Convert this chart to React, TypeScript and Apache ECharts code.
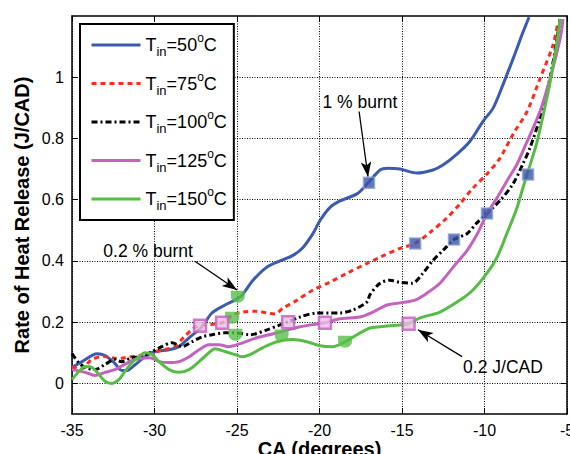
import React, { useEffect, useRef } from "react";
import * as echarts from "echarts";

const X_TICKS = [-35, -30, -25, -20, -15, -10, -5];
const Y_TICKS = [0, 0.2, 0.4, 0.6, 0.8, 1];
const TEMPS = [50, 75, 100, 125, 150];

const T50: [number, number][] = [
  [-35, 0.052], [-34.39, 0.071], [-33.48, 0.097], [-33.0, 0.091], [-32.45, 0.068], [-31.97, 0.042],
  [-31.67, 0.042], [-31.18, 0.061], [-30.58, 0.087], [-29.97, 0.104], [-29.12, 0.11], [-28.52, 0.12],
  [-27.91, 0.149], [-27.12, 0.185], [-26.52, 0.23], [-25.73, 0.256], [-25.12, 0.272], [-24.7, 0.288],
  [-24.03, 0.337], [-23.18, 0.38], [-22.39, 0.4], [-21.61, 0.418], [-21.0, 0.444], [-20.39, 0.49],
  [-19.97, 0.532], [-19.36, 0.575], [-18.76, 0.596], [-17.73, 0.619], [-17.12, 0.651], [-16.33, 0.697],
  [-15.85, 0.703], [-15.12, 0.7], [-14.09, 0.687], [-13.12, 0.697], [-12.52, 0.713], [-11.67, 0.749],
  [-10.88, 0.791], [-10.09, 0.856], [-9.48, 0.899], [-8.88, 0.976], [-8.27, 1.06], [-7.67, 1.147],
  [-7.3, 1.196],
];
const T75: [number, number][] = [
  [-35, 0.055], [-34.5, 0.045], [-33.8, 0.078], [-33.0, 0.088], [-32.3, 0.081], [-31.8, 0.084],
  [-30.9, 0.091], [-30.15, 0.1], [-29.4, 0.11], [-28.8, 0.12], [-28.2, 0.152], [-27.6, 0.181],
  [-27.1, 0.19], [-25.91, 0.198], [-25.24, 0.224], [-24.64, 0.233], [-23.79, 0.236], [-23.18, 0.23],
  [-22.7, 0.227], [-22.21, 0.246], [-21.36, 0.272], [-20.39, 0.305], [-19.36, 0.331], [-18.33, 0.36],
  [-17.12, 0.392], [-16.33, 0.412], [-15.12, 0.441], [-14.21, 0.457], [-13.3, 0.493], [-12.27, 0.541],
  [-11.48, 0.587], [-10.7, 0.638], [-9.85, 0.684], [-9.06, 0.736], [-8.27, 0.814], [-7.42, 0.888],
  [-6.64, 0.995], [-5.85, 1.105], [-5.55, 1.18],
];
const T100: [number, number][] = [
  [-35, 0.097], [-34.6, 0.068], [-34.2, 0.052], [-33.6, 0.045], [-33.0, 0.062], [-32.4, 0.078],
  [-32.0, 0.071], [-31.4, 0.084], [-30.8, 0.087], [-30.15, 0.104], [-29.55, 0.12], [-28.94, 0.133],
  [-28.33, 0.12], [-27.73, 0.136], [-27.12, 0.152], [-26.52, 0.159], [-25.73, 0.165], [-25.12, 0.165],
  [-24.21, 0.159], [-23.18, 0.175], [-22.39, 0.191], [-21.91, 0.201], [-21.18, 0.217], [-20.15, 0.23],
  [-19.36, 0.23], [-18.76, 0.23], [-17.97, 0.24], [-17.12, 0.266], [-16.94, 0.29], [-16.33, 0.327],
  [-15.73, 0.337], [-15.12, 0.33], [-14.39, 0.327], [-13.73, 0.36], [-13.12, 0.402], [-12.52, 0.434],
  [-11.85, 0.47], [-11.06, 0.489], [-10.45, 0.525], [-9.06, 0.597], [-8.27, 0.652], [-7.67, 0.717],
  [-7.24, 0.77], [-6.64, 0.867], [-6.03, 0.997], [-5.61, 1.125], [-5.42, 1.19],
];
const T125: [number, number][] = [
  [-35, 0.045], [-34.2, 0.036], [-33.6, 0.026], [-33.0, 0.036], [-32.4, 0.045], [-31.8, 0.062],
  [-31.2, 0.078], [-30.3, 0.084], [-29.7, 0.071], [-29.1, 0.068], [-28.5, 0.071], [-27.9, 0.087],
  [-27.3, 0.11], [-26.7, 0.126], [-26.1, 0.126], [-25.5, 0.12], [-24.8, 0.13], [-23.8, 0.149],
  [-22.8, 0.162], [-21.18, 0.185], [-19.67, 0.198], [-18.76, 0.211], [-17.55, 0.217], [-16.76, 0.233],
  [-15.91, 0.256], [-15.12, 0.263], [-14.21, 0.272], [-13.48, 0.295], [-12.7, 0.327], [-11.91, 0.379],
  [-11.06, 0.434], [-10.39, 0.493], [-9.85, 0.554], [-9.24, 0.606], [-8.64, 0.661], [-8.03, 0.716],
  [-7.67, 0.759], [-6.64, 0.888], [-6.03, 0.995], [-5.42, 1.125], [-5.24, 1.19],
];
const T150: [number, number][] = [
  [-35, 0.013], [-34.58, 0.039], [-34.21, 0.055], [-33.79, 0.052], [-33.36, 0.029], [-33.0, 0.007],
  [-32.58, 0.0], [-32.15, 0.013], [-31.79, 0.039], [-31.36, 0.068], [-30.94, 0.087], [-30.58, 0.1],
  [-30.15, 0.094], [-29.73, 0.071], [-29.12, 0.045], [-28.52, 0.036], [-27.91, 0.045], [-27.3, 0.071],
  [-26.7, 0.1], [-26.33, 0.113], [-25.73, 0.104], [-25.12, 0.094], [-24.7, 0.087], [-24.21, 0.094],
  [-23.42, 0.117], [-22.58, 0.136], [-21.61, 0.143], [-20.76, 0.136], [-19.97, 0.123], [-19.18, 0.12],
  [-18.45, 0.136], [-17.73, 0.159], [-16.94, 0.181], [-16.33, 0.185], [-15.12, 0.191], [-14.64, 0.194],
  [-13.91, 0.214], [-12.7, 0.233], [-11.48, 0.272], [-10.7, 0.305], [-9.85, 0.36], [-9.24, 0.412],
  [-8.64, 0.49], [-8.03, 0.574], [-7.67, 0.639], [-7.24, 0.713], [-6.82, 0.788], [-6.45, 0.875],
  [-6.03, 0.982], [-5.61, 1.115], [-5.42, 1.19],
];

// event markers
const BURNT_02: [number, number][] = [[-24.95, 0.283], [-25.3, 0.214], [-25.1, 0.159], [-22.3, 0.156], [-18.45, 0.136]];
const BURNT_1: [number, number][] = [[-17.0, 0.655], [-14.2, 0.457], [-11.85, 0.47], [-9.85, 0.555], [-7.36, 0.682]];
const JCAD_02: [number, number][] = [[-27.24, 0.188], [-25.9, 0.198], [-21.9, 0.2], [-19.67, 0.198], [-14.6, 0.195]];

// annotations: text position and arrow (from -> to), in data units
const ANNOTATIONS: { text: string; at: [number, number]; from: [number, number]; to: [number, number] }[] = [
  { text: "1 % burnt", at: [-17.55, 0.92], from: [-17.6, 0.888], to: [-17.06, 0.675] },
  { text: "0.2 % burnt", at: [-30.39, 0.431], from: [-27.55, 0.399], to: [-25.0, 0.305] },
  { text: "0.2 J/CAD", at: [-8.88, 0.055], from: [-11.36, 0.0875], to: [-14.03, 0.175] },
];

const SANS = "'Liberation Sans', Arial, sans-serif";

export default function App() {
  const ref = useRef<HTMLDivElement>(null);
  useEffect(() => {
    if (!ref.current) return;
    const chart = echarts.init(ref.current, null, { renderer: "svg" });
    const lineData = [T50, T75, T100, T125, T150];
    const colors = ["#3b5bb0", "#ff2a1c", "#000000", "#c462c0", "#55bd45"];
    const types: any[] = ["solid", [5, 4], [6, 3, 2, 3], "solid", "solid"];
    const widths = [3, 3, 3, 3, 3];
    const names = TEMPS.map((t) => `Tin=${t}°C`);

    const lineSeries = lineData.map((d, i) => ({
      name: names[i],
      type: "line",
      data: d,
      showSymbol: false,
      symbol: "none",
      smooth: 0.3,
      color: colors[i],
      lineStyle: { color: colors[i], width: widths[i], type: types[i] },
      z: 3,
    }));

    const axisCommon = {
      axisLine: { show: true, onZero: false, lineStyle: { color: "#000", width: 1.5 } },
      axisTick: { show: true, inside: true, length: 6, lineStyle: { color: "#000", width: 1 } },
    };

    chart.setOption({
      animation: false,
      backgroundColor: "#fff",
      grid: { left: 72, right: 3, top: 16, bottom: 40, containLabel: false, outerBoundsMode: "none" },
      legend: {
        data: names,
        orient: "vertical",
        left: 80,
        top: 24,
        padding: [8, 7, 8, 10],
        itemGap: 12.5,
        itemWidth: 49,
        itemHeight: 14,
        borderColor: "#000",
        borderWidth: 2,
        backgroundColor: "#fff",
        selectedMode: false,
        itemStyle: { opacity: 0 },
        lineStyle: { width: "inherit" },
        formatter: (name: string) => {
          const t = TEMPS[names.indexOf(name)];
          return `T{sub|in}=${t}{sup|o}C`;
        },
        textStyle: {
          fontFamily: SANS,
          fontSize: 18,
          color: "#000",
          lineHeight: 26,
          rich: {
            sub: { fontFamily: SANS, fontSize: 13, lineHeight: 13, verticalAlign: "bottom", color: "#000" },
            sup: { fontFamily: SANS, fontSize: 12, lineHeight: 12, verticalAlign: "top", color: "#000" },
          },
        },
      },
      xAxis: [
        {
          type: "value",
          min: -35,
          max: -5,
          interval: 5,
          ...axisCommon,
          axisLabel: {
            color: "#000",
            fontFamily: SANS,
            fontSize: 16,
            margin: 8,
            customValues: X_TICKS,
          },
          splitLine: { show: true, lineStyle: { color: "#000", type: [1, 1.5], width: 1 } },
          name: "CA (degrees)",
          nameLocation: "middle",
          nameGap: 25,
          nameMoveOverlap: false,
          nameTextStyle: { fontFamily: SANS, fontWeight: "bold", fontSize: 20, color: "#000", verticalAlign: "top" },
        },
        {
          type: "value",
          position: "top",
          min: -35,
          max: -5,
          interval: 5,
          ...axisCommon,
          axisLabel: { show: false },
          splitLine: { show: false },
        },
      ],
      yAxis: [
        {
          type: "value",
          min: -0.1,
          max: 1.2,
          ...axisCommon,
          axisTick: { ...axisCommon.axisTick, customValues: Y_TICKS },
          axisLabel: {
            color: "#000",
            fontFamily: SANS,
            fontSize: 16,
            margin: 8,
            customValues: Y_TICKS,
            formatter: (v: number) => String(Math.round(v * 10) / 10),
          },
          splitLine: { show: true, lineStyle: { color: "#000", type: [1, 1.5], width: 1 } },
          name: "Rate of Heat Release (J/CAD)",
          nameLocation: "middle",
          nameGap: 40,
          nameMoveOverlap: false,
          nameTextStyle: { fontFamily: SANS, fontWeight: "bold", fontSize: 20, color: "#000" },
        },
        {
          type: "value",
          position: "right",
          min: -0.1,
          max: 1.2,
          ...axisCommon,
          axisTick: { ...axisCommon.axisTick, customValues: Y_TICKS },
          axisLabel: { show: false },
          splitLine: { show: false },
        },
      ],
      series: [
        ...lineSeries,
        {
          name: "0.2 % burnt",
          type: "scatter",
          data: BURNT_02,
          symbol: "path://M0,0 L12,0 L12,5 A6,6 0 0 1 0,5 Z",
          symbolSize: [14, 12],
          itemStyle: { color: "#58bf46" },
          z: 5,
        },
        {
          name: "1 % burnt",
          type: "scatter",
          data: BURNT_1,
          symbol: "rect",
          symbolSize: 11,
          itemStyle: { color: "#3a54a8", borderColor: "#8da0d8", borderWidth: 1.5 },
          z: 5,
        },
        {
          name: "0.2 J/CAD",
          type: "scatter",
          data: JCAD_02,
          symbol: "rect",
          symbolSize: 12,
          itemStyle: { color: "#e9bde4", borderColor: "#c25fbe", borderWidth: 2.5 },
          z: 5,
        },
        {
          name: "annotations",
          type: "scatter",
          data: [],
          z: 6,
          markLine: {
            silent: true,
            symbol: ["none", "arrow"],
            symbolSize: [8, 15],
            label: { show: false },
            lineStyle: { color: "#000", width: 1.3, type: "solid" },
            data: ANNOTATIONS.map((a) => [{ coord: a.from }, { coord: a.to }]),
          },
          markPoint: {
            silent: true,
            symbol: "rect",
            symbolSize: 1,
            itemStyle: { color: "rgba(0,0,0,0)" },
            label: {
              show: true,
              position: "inside",
              formatter: "{b}",
              color: "#000",
              fontFamily: SANS,
              fontSize: 17.5,
            },
            data: ANNOTATIONS.map((a) => ({ name: a.text, coord: a.at })),
          },
        },
      ],
    });
    return () => chart.dispose();
  }, []);
  return <div ref={ref} style={{ position: "fixed", left: 0, top: 0, width: 570, height: 454 }} />;
}
